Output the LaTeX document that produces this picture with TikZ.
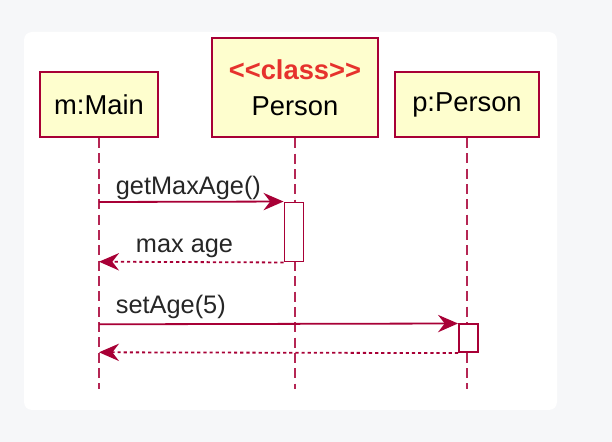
\documentclass[tikz,border=0pt]{standalone}
\usepackage{fontspec}
\setmainfont{Liberation Sans}
\usetikzlibrary{arrows.meta}
\definecolor{umlred}{RGB}{168,0,54}
\definecolor{umlfill}{RGB}{254,254,206}
\definecolor{stereored}{RGB}{230,50,45}
\definecolor{pagebg}{RGB}{246,247,249}
\tikzset{
    actor/.style={draw=umlred, fill=umlfill, line width=1.6pt, font=\fontsize{20.5}{25.5}\selectfont, align=center, inner sep=0pt},
    lifeline/.style={umlred!85, line width=1.3pt, dash pattern=on 7.5pt off 4pt},
    activ/.style={draw=umlred, fill=white, line width=1.2pt, minimum width=14.5pt, inner sep=0pt},
    msg/.style={umlred, line width=1.35pt, -{Stealth[length=15pt, width=13pt, inset=5pt]}},
    reply/.style={msg, dash pattern=on 2.4pt off 2.2pt},
    lbl/.style={anchor=base west, text=black!85, font=\fontsize{19}{22}\selectfont, inner sep=0pt},
}
\begin{document}
\begin{tikzpicture}[x=0.75pt, y=-0.75pt]
    % page and panel
    \fill [pagebg] (0, 0) rectangle (612, 442);
    \useasboundingbox (0, 0) rectangle (612, 442);
    \fill [white, rounded corners=6pt] (24, 32) rectangle (557, 410);
    % participants
    \node [actor, minimum width=89pt, minimum height=48.75pt] (main) at (99, 104.5) {m:Main};
    \node [actor, minimum width=124pt, minimum height=74.25pt] (cls) at (295, 87.8)
        {\raisebox{1.5pt}{\textcolor{stereored}{\bfseries <{}<class>{}>}}\\Person};
    \node [actor, minimum width=107.5pt, minimum height=48.75pt] (per) at (467, 104.5) {p:Person};
    % lifeline ends
    \coordinate (mainend) at (99, 389);
    \coordinate (clsend) at (295, 389);
    \coordinate (perend) at (467, 389);
    \draw [lifeline] (main.south) -- (mainend);
    \draw [lifeline] (cls.south) -- (clsend);
    \draw [lifeline] (per.south) -- (perend);
    % activations
    \node [activ, minimum height=44.5pt] (actcls) at (294, 232) {};
    \node [activ, minimum height=21pt] (actper) at (468.5, 338.3) {};
    % points on the caller's lifeline
    \coordinate (call1) at (99, 202);
    \coordinate (back1) at (99, 261.7);
    \coordinate (call2) at (99, 324.3);
    \coordinate (back2) at (99, 352.3);
    % messages
    \draw [msg] (call1) -- node [lbl, at start, shift={(16,-7.5)}] {getMaxAge()} (actcls.north west);
    \draw [reply] (actcls.south west) -- node [lbl, at end, shift={(36,-9)}] {max age} (back1);
    \draw [msg] (call2) -- node [lbl, at start, shift={(16,-10.5)}] {setAge(5)} (actper.north west);
    \draw [reply] (actper.south west) -- (back2);
\end{tikzpicture}
\end{document}
